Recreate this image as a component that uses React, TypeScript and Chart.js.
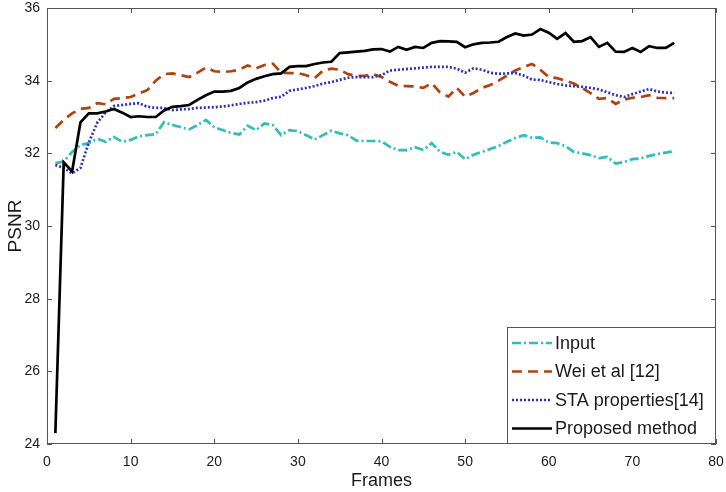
import React, { useEffect, useRef } from "react";
import { Chart, registerables } from "chart.js";

Chart.register(...registerables);

const frames: number[] = Array.from({ length: 75 }, (_, i) => i + 1);

const inputVals: number[] = [
  31.73, 31.77, 32.04, 32.23, 32.28, 32.4, 32.32, 32.45, 32.32, 32.37,
  32.47, 32.5, 32.53, 32.86, 32.78, 32.72, 32.66, 32.78, 32.92, 32.72,
  32.64, 32.56, 32.52, 32.76, 32.64, 32.82, 32.78, 32.5, 32.64, 32.61,
  32.5, 32.38, 32.5, 32.62, 32.55, 32.5, 32.35, 32.34, 32.34, 32.33,
  32.18, 32.09, 32.09, 32.17, 32.09, 32.28, 32.04, 31.96, 32.04, 31.84,
  31.96, 32.04, 32.12, 32.2, 32.32, 32.42, 32.5, 32.43, 32.44, 32.3,
  32.28, 32.2, 32.04, 32.0, 31.95, 31.87, 31.9, 31.72, 31.76, 31.84,
  31.86, 31.93, 31.98, 32.02, 32.06,
];

const weiVals: number[] = [
  32.7, 32.92, 33.1, 33.22, 33.25, 33.38, 33.35, 33.5, 33.52, 33.55,
  33.65, 33.74, 34.0, 34.18, 34.2, 34.15, 34.1, 34.22, 34.36, 34.26,
  34.24, 34.26, 34.3, 34.42, 34.34, 34.43, 34.47, 34.22, 34.21, 34.21,
  34.15, 34.07, 34.28, 34.33, 34.3, 34.18, 34.13, 34.13, 34.18, 34.1,
  33.97, 33.86, 33.85, 33.84, 33.8, 33.93, 33.68, 33.56, 33.8, 33.56,
  33.66, 33.8, 33.88, 34.0, 34.14, 34.28, 34.38, 34.46, 34.3, 34.1,
  34.07, 34.0, 33.92, 33.8, 33.66, 33.5, 33.52, 33.36, 33.48, 33.53,
  33.55, 33.6, 33.53, 33.52, 33.52,
];

const staVals: number[] = [
  31.68, 31.6, 31.45, 31.6, 32.3, 32.84, 33.12, 33.3, 33.33, 33.36,
  33.38, 33.28, 33.25, 33.25, 33.19, 33.21, 33.22, 33.25, 33.26, 33.27,
  33.29, 33.32, 33.36, 33.39, 33.41, 33.45, 33.52, 33.56, 33.72, 33.76,
  33.8, 33.85, 33.92, 33.96, 34.02, 34.08, 34.1, 34.1, 34.1, 34.15,
  34.28, 34.3, 34.32, 34.34, 34.36, 34.38, 34.38, 34.38, 34.33, 34.22,
  34.34, 34.3, 34.22, 34.19, 34.2, 34.21, 34.14, 34.03, 34.02, 33.96,
  33.91, 33.87, 33.85, 33.83, 33.8, 33.76, 33.68, 33.6, 33.55, 33.63,
  33.7, 33.77, 33.7, 33.67, 33.66,
];

const proposedVals: number[] = [
  24.3, 31.75, 31.5, 32.85, 33.1, 33.1, 33.15, 33.22, 33.12, 33.0,
  33.02, 33.0, 33.0, 33.18, 33.28, 33.3, 33.33, 33.47, 33.6, 33.7,
  33.7, 33.72, 33.8, 33.95, 34.05, 34.12, 34.18, 34.2, 34.38, 34.4,
  34.4, 34.46, 34.5, 34.52, 34.76, 34.78, 34.8, 34.82, 34.86, 34.87,
  34.8, 34.93, 34.85, 34.93, 34.9, 35.04, 35.09, 35.08, 35.07, 34.92,
  35.0, 35.04, 35.05, 35.07, 35.2, 35.3, 35.24, 35.27, 35.42, 35.32,
  35.15, 35.31, 35.07, 35.09, 35.2, 34.93, 35.04, 34.8, 34.79, 34.9,
  34.79, 34.95, 34.9, 34.9, 35.04,
];

const seriesLabels: string[] = ["Input", "Wei et al [12]", "STA properties[14]", "Proposed method"];
const xTicks: number[] = [0, 10, 20, 30, 40, 50, 60, 70, 80];
const yTicks: number[] = [24, 26, 28, 30, 32, 34, 36];

const FONT = "'Liberation Sans', Arial, sans-serif";
const TEXT = "#1a1a1a";
const AXIS = "#555555";

const styles = [
  { color: "#2fbdbd", dash: [9, 3, 2, 3], width: 2.7 },
  { color: "#b2410e", dash: [10, 6], width: 2.7 },
  { color: "#3131bd", dash: [2, 2], width: 2.7 },
  { color: "#000000", dash: [] as number[], width: 2.7 },
];

const toPoints = (vals: number[]) => vals.map((v, i) => ({ x: frames[i], y: v }));

const matlabPlugin = {
  id: "matlabBox",
  beforeDatasetsDraw(chart: any) {
    const { ctx, chartArea: a, scales } = chart;
    ctx.save();
    ctx.strokeStyle = AXIS;
    ctx.lineWidth = 1;
    ctx.setLineDash([]);
    ctx.strokeRect(a.left + 0.5, a.top + 0.5, a.right - a.left - 1, a.bottom - a.top - 1);
    const tl = 5;
    ctx.beginPath();
    xTicks.forEach((v) => {
      const px = Math.round(scales.x.getPixelForValue(v)) + 0.5;
      ctx.moveTo(px, a.bottom);
      ctx.lineTo(px, a.bottom - tl);
      ctx.moveTo(px, a.top);
      ctx.lineTo(px, a.top + tl);
    });
    yTicks.forEach((v) => {
      const py = Math.round(scales.y.getPixelForValue(v)) + 0.5;
      ctx.moveTo(a.left, py);
      ctx.lineTo(a.left + tl, py);
      ctx.moveTo(a.right, py);
      ctx.lineTo(a.right - tl, py);
    });
    ctx.stroke();
    ctx.restore();
  },
  afterDatasetsDraw(chart: any) {
    const { ctx, chartArea: a } = chart;
    const boxW = 209;
    const boxH = 117;
    const bx = a.right - boxW;
    const by = a.bottom - boxH;
    ctx.save();
    ctx.fillStyle = "#ffffff";
    ctx.fillRect(bx, by, boxW, boxH);
    ctx.strokeStyle = AXIS;
    ctx.lineWidth = 1;
    ctx.setLineDash([]);
    ctx.strokeRect(bx + 0.5, by + 0.5, boxW - 1, boxH - 1);
    ctx.font = `18px ${FONT}`;
    ctx.textBaseline = "middle";
    ctx.textAlign = "left";
    seriesLabels.forEach((lab, i) => {
      const cy = by + 16 + i * 28.5;
      const st = styles[i];
      ctx.strokeStyle = st.color;
      ctx.lineWidth = st.width;
      ctx.setLineDash(st.dash);
      ctx.beginPath();
      ctx.moveTo(bx + 5, cy);
      ctx.lineTo(bx + 45, cy);
      ctx.stroke();
      ctx.setLineDash([]);
      ctx.fillStyle = TEXT;
      ctx.fillText(lab, bx + 48, cy + 1);
    });
    ctx.restore();
  },
};

export default function App() {
  const ref = useRef<HTMLCanvasElement | null>(null);

  useEffect(() => {
    if (!ref.current) return;
    const valsList = [inputVals, weiVals, staVals, proposedVals];
    const chart = new Chart(ref.current, {
      type: "line",
      data: {
        datasets: valsList.map((vals, i) => ({
          label: seriesLabels[i],
          data: toPoints(vals),
          borderColor: styles[i].color,
          borderWidth: styles[i].width,
          borderDash: styles[i].dash,
          pointRadius: 0,
          fill: false,
          tension: 0,
          order: 3 - i,
        })),
      },
      options: {
        responsive: false,
        animation: false,
        devicePixelRatio: 1,
        layout: { padding: { top: 8, right: 10, left: 0, bottom: 0 } },
        plugins: { legend: { display: false }, tooltip: { enabled: false } },
        scales: {
          x: {
            type: "linear",
            min: 0,
            max: 80,
            grid: { display: false, drawTicks: false },
            border: { display: false },
            ticks: {
              stepSize: 10,
              padding: 10,
              color: TEXT,
              font: { family: FONT, size: 14 },
              maxRotation: 0,
            },
            title: {
              display: true,
              text: "Frames",
              color: TEXT,
              font: { family: FONT, size: 18 },
              padding: 0,
            },
            afterFit: (s: any) => {
              s.height = 48;
              s.paddingLeft = 0;
              s.paddingRight = 0;
            },
          },
          y: {
            type: "linear",
            min: 24,
            max: 36,
            grid: { display: false, drawTicks: false },
            border: { display: false },
            ticks: {
              stepSize: 2,
              padding: 7,
              color: TEXT,
              font: { family: FONT, size: 14 },
            },
            title: {
              display: true,
              text: "PSNR",
              color: TEXT,
              font: { family: FONT, size: 19 },
              padding: { top: 4, bottom: 0 },
            },
            afterFit: (s: any) => {
              s.width = 47;
              s.paddingTop = 0;
              s.paddingBottom = 0;
            },
          },
        },
      },
      plugins: [matlabPlugin],
    });
    return () => chart.destroy();
  }, []);

  return (
    <div style={{ position: "absolute", left: 0, top: 0, width: 726, height: 492, background: "#fff" }}>
      <canvas ref={ref} width={726} height={492} style={{ display: "block" }} />
    </div>
  );
}
